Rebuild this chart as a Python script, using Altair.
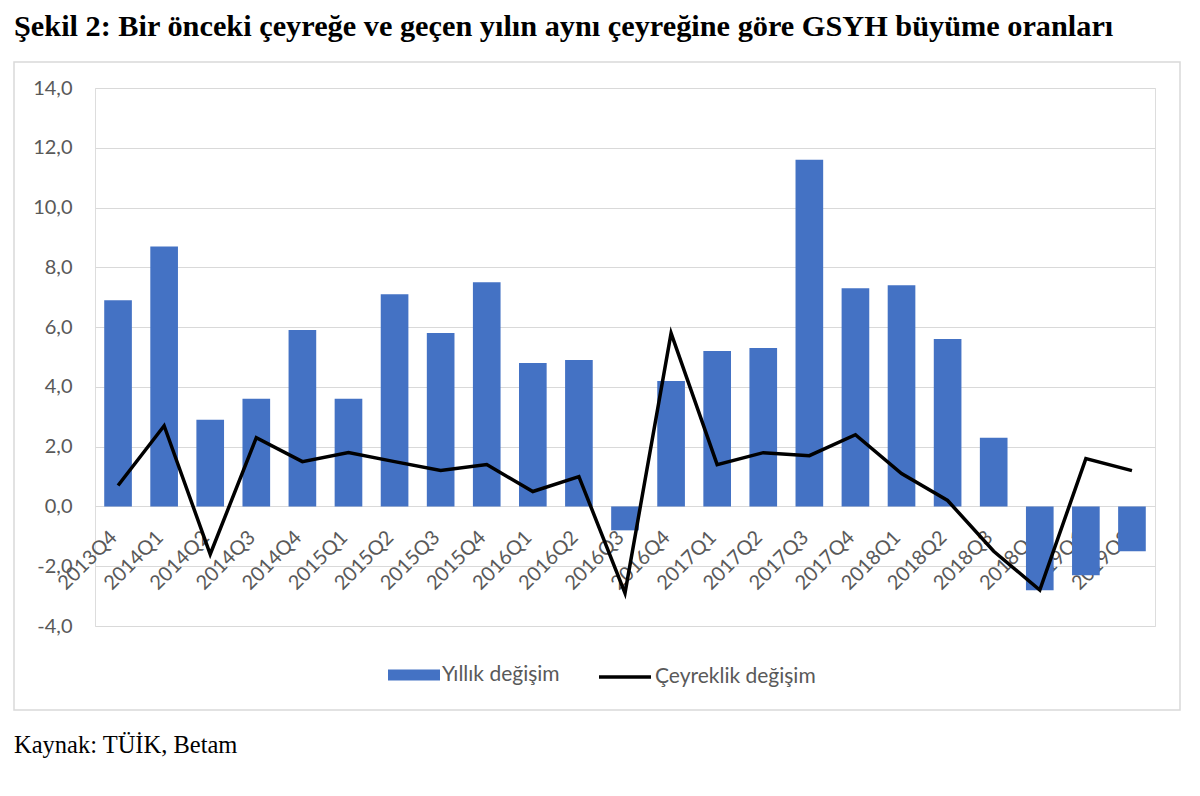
import altair as alt
import pandas as pd

quarters = ["2013Q4", "2014Q1", "2014Q2", "2014Q3", "2014Q4", "2015Q1", "2015Q2",
            "2015Q3", "2015Q4", "2016Q1", "2016Q2", "2016Q3", "2016Q4", "2017Q1",
            "2017Q2", "2017Q3", "2017Q4", "2018Q1", "2018Q2", "2018Q3", "2018Q4",
            "2019Q1", "2019Q2"]
yillik = [6.9, 8.7, 2.9, 3.6, 5.9, 3.6, 7.1, 5.8, 7.5, 4.8, 4.9, -0.8, 4.2, 5.2,
          5.3, 11.6, 7.3, 7.4, 5.6, 2.3, -2.8, -2.3, -1.5]
ceyreklik = [0.7, 2.7, -1.6, 2.3, 1.5, 1.8, 1.5, 1.2, 1.4, 0.5, 1.0, -2.9, 5.8, 1.4,
             1.8, 1.7, 2.4, 1.1, 0.2, -1.5, -2.8, 1.6, 1.2]
y_ticks = [-4, -2, 0, 2, 4, 6, 8, 10, 12, 14]

title_text = "Şekil 2: Bir önceki çeyreğe ve geçen yılın aynı çeyreğine göre GSYH büyüme oranları"
source_text = "Kaynak: TÜİK, Betam"

df = pd.DataFrame({"q": quarters, "yillik": yillik, "ceyreklik": ceyreklik})

W, H = 1060, 538
GRAY = "#595959"
FONT = "Lato"

x_enc = alt.X("q:N", sort=quarters, title=None,
              scale=alt.Scale(paddingInner=0.4, paddingOuter=0.2),
              axis=alt.Axis(offset=-120, labelAngle=-45, labelAlign="right",
                            labelBaseline="middle", labelPadding=28, labelOffset=-4,
                            labelFontSize=20, labelColor=GRAY, labelFont=FONT,
                            domain=False, ticks=False, grid=False))
y_scale = alt.Scale(domain=[-4, 14], nice=False)

bars = alt.Chart(df).transform_calculate(s="'Yıllık değişim'").mark_bar(
    color="#4472C4"
).encode(
    x=x_enc,
    y=alt.Y("yillik:Q", scale=y_scale, title=None,
            axis=alt.Axis(values=y_ticks,
                          labelExpr="replace(replace(format(datum.value, '.1f'), '.', ','), '\u2212', '-')",
                          domain=False, ticks=False, labelPadding=23, labelFontSize=20,
                          labelColor=GRAY, labelFont=FONT, gridColor="#d9d9d9")),
    color=alt.Color("s:N", scale=alt.Scale(domain=["Yıllık değişim"], range=["#4472C4"]),
                    legend=alt.Legend(title=None, orient="none", legendX=293, legendY=561,
                                      symbolType="M-1,-0.21H1V0.21H-1Z", symbolSize=2704,
                                      symbolStrokeWidth=0, symbolOpacity=1, labelOffset=2,
                                      labelFontSize=21, labelColor=GRAY, labelFont=FONT,
                                      labelLimit=400, padding=0)),
)

line = alt.Chart(df).transform_calculate(s2="'Çeyreklik değişim'").mark_line(
    color="black", strokeWidth=3.5
).encode(
    x=alt.X("q:N", sort=quarters),
    y=alt.Y("ceyreklik:Q", scale=y_scale),
    stroke=alt.Stroke("s2:N", scale=alt.Scale(domain=["Çeyreklik değişim"], range=["black"]),
                      legend=alt.Legend(title=None, orient="none", legendX=502, legendY=561,
                                        symbolType="stroke", symbolSize=2704,
                                        symbolStrokeWidth=3.5, labelOffset=2,
                                        labelFontSize=21, labelColor=GRAY, labelFont=FONT,
                                        labelLimit=400, padding=0)),
)

frame = alt.Chart(pd.DataFrame({"k": [0]})).mark_rect(
    fill="white", fillOpacity=0, stroke="#d9d9d9", strokeWidth=1.5
).encode(x=alt.value(-81), x2=alt.value(1085), y=alt.value(-26), y2=alt.value(622))

source = alt.Chart(pd.DataFrame({"t": [source_text]})).mark_text(
    align="left", baseline="alphabetic", font="Liberation Serif", fontSize=24.5, color="black"
).encode(text="t:N", x=alt.value(-81), y=alt.value(665))

chart = alt.layer(frame, bars, line, source).resolve_scale(
    color="independent", stroke="independent"
).properties(
    width=W, height=H,
    autosize=alt.AutoSizeParams(type="none"),
    padding={"left": 87, "top": 80, "right": 37, "bottom": 162},
    title=alt.TitleParams(title_text, anchor="start", frame="group", dx=-81, offset=19,
                          font="Liberation Serif", fontSize=30.3, fontWeight="bold",
                          color="black"),
).configure_view(stroke=None).configure(background="white")

chart.save("out.html", embed_options={"renderer": "svg", "actions": False})
